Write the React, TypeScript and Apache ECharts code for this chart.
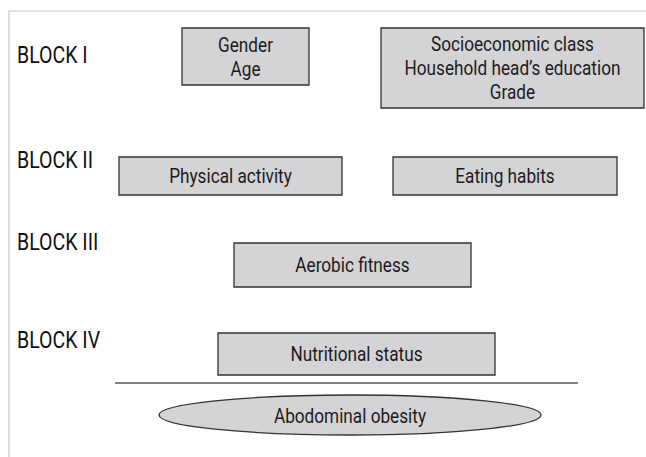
import React, { useEffect, useRef } from "react";
import * as echarts from "echarts";

const blockLabels = ["BLOCK I", "BLOCK II", "BLOCK III", "BLOCK IV"];
const block1Left = ["Gender", "Age"];
const block1Right = ["Socioeconomic class", "Household head\u2019s education", "Grade"];
const block2 = ["Physical activity", "Eating habits"];
const block3 = ["Aerobic fitness"];
const block4 = ["Nutritional status"];
const outcome = "Abodominal obesity";

const FONT = "Roboto, 'Liberation Sans', sans-serif";
const TEXT = "#1d1b1c";
const FILL = "#d4d4d6";
const STROKE = "#333333";
const SX = 0.86;

function box(x: number, y: number, w: number, h: number, lines: string[]) {
  return [
    {
      type: "rect",
      shape: { x, y, width: w, height: h },
      style: { fill: FILL, stroke: STROKE, lineWidth: 1.3 },
    },
    {
      type: "text",
      x: x + w / 2,
      y: y + h / 2 + 1,
      scaleX: SX,
      style: {
        text: lines.join("\n"),
        fill: TEXT,
        font: `20px ${FONT}`,
        lineHeight: 24,
        align: "center",
        verticalAlign: "middle",
      },
    },
  ];
}

export default function App() {
  const ref = useRef<HTMLDivElement>(null);
  useEffect(() => {
    document.body.style.margin = "0";
    const chart = echarts.init(ref.current!, null, { renderer: "svg" });
    const labelY = [55, 160, 242, 340];
    const elements: any[] = [
      {
        type: "polyline",
        shape: { points: [[9, 457], [9, 11], [646, 11]] },
        style: { stroke: "#c8c8c8", lineWidth: 1.2, fill: null },
      },
      ...blockLabels.map((t, i) => ({
        type: "text",
        x: 17,
        y: labelY[i],
        scaleX: 0.85,
        style: {
          text: t,
          fill: "#111111",
          font: `23px ${FONT}`,
          align: "left",
          verticalAlign: "middle",
        },
      })),
      ...box(182, 28, 127, 57, block1Left),
      ...box(381, 28, 263, 80, block1Right),
      ...box(119, 157, 223, 38, [block2[0]]),
      ...box(393, 157, 224, 38, [block2[1]]),
      ...box(234, 243, 237, 44, block3),
      ...box(218, 333, 277, 42, block4),
      {
        type: "line",
        shape: { x1: 115, y1: 383, x2: 578, y2: 383 },
        style: { stroke: "#555555", lineWidth: 1.5 },
      },
      {
        type: "ellipse",
        shape: { cx: 350, cy: 415, rx: 191, ry: 20 },
        style: { fill: FILL, stroke: STROKE, lineWidth: 1.3 },
      },
      {
        type: "text",
        x: 350,
        y: 417,
        scaleX: SX,
        style: {
          text: outcome,
          fill: TEXT,
          font: `20px ${FONT}`,
          align: "center",
          verticalAlign: "middle",
        },
      },
    ];
    chart.setOption({ animation: false, graphic: { elements } });
    return () => chart.dispose();
  }, []);
  return <div ref={ref} style={{ width: 646, height: 457 }} />;
}
